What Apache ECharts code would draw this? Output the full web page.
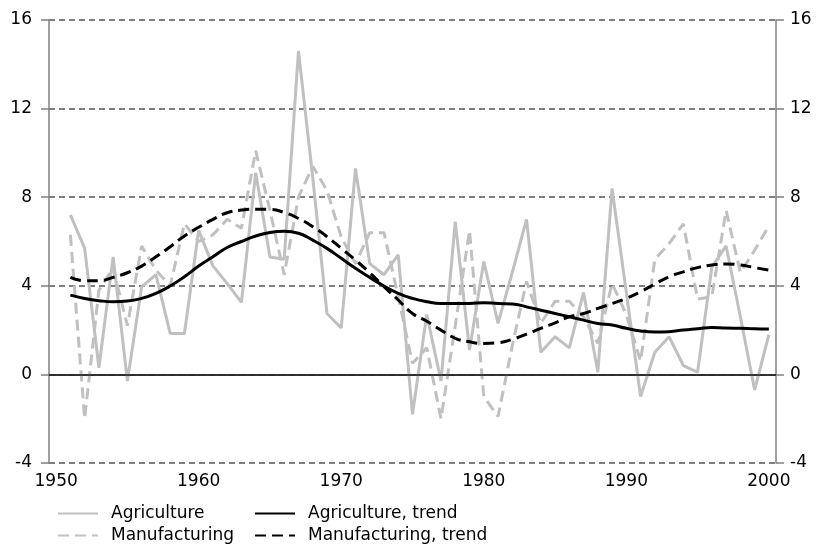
<!DOCTYPE html>
<html>
<head>
<meta charset="utf-8">
<script src="https://cdn.jsdelivr.net/npm/echarts@6/dist/echarts.min.js"></script>
<style>
  html, body { margin: 0; padding: 0; background: #fff; }
  #main { width: 817px; height: 545px; }
</style>
</head>
<body>
<div id="main"></div>
<script>
  // years on the axis (1950 is an empty slot, data starts 1951)
  var years = []
  for (var y = 1950; y <= 2000; y++) years.push(String(y))

  // growth rates 1951-2000
  var agriculture = [7.2, 5.7, 0.3, 5.3, -0.3, 3.95, 4.5, 1.85, 1.85, 6.5,
    4.9, 4.1, 3.25, 9.1, 5.3, 5.2, 14.6, 8.9, 2.75, 2.1,
    9.3, 5.0, 4.5, 5.4, -1.8, 2.7, -0.3, 6.9, 1.1, 5.1,
    2.3, 4.6, 7.0, 1.0, 1.7, 1.2, 3.7, 0.1, 8.4, 3.7,
    -1.0, 1.0, 1.7, 0.4, 0.1, 4.85, 5.8, 2.6, -0.7, 1.8]
  var manufacturing = [6.3, -2.0, 3.8, 4.8, 2.2, 5.8, 4.7, 4.0, 6.8, 6.0,
    6.3, 7.0, 6.6, 10.1, 7.4, 4.5, 8.0, 9.4, 8.3, 6.2,
    5.0, 6.4, 6.4, 3.5, 0.5, 1.2, -2.0, 2.2, 6.5, -1.0,
    -1.9, 1.3, 4.2, 2.3, 3.3, 3.3, 2.6, 1.4, 4.1, 2.7,
    0.6, 5.2, 5.9, 6.8, 3.4, 3.5, 7.4, 4.6, 5.6, 6.7]
  var agricultureTrend = [3.58, 3.43, 3.33, 3.28, 3.31, 3.43, 3.66, 3.99, 4.41, 4.89,
    5.31, 5.73, 6.0, 6.25, 6.41, 6.46, 6.37, 6.06, 5.69, 5.24,
    4.79, 4.38, 3.99, 3.66, 3.43, 3.28, 3.2, 3.2, 3.2, 3.24,
    3.2, 3.18, 3.05, 2.9, 2.75, 2.6, 2.45, 2.3, 2.23, 2.08,
    1.96, 1.91, 1.93, 2.0, 2.06, 2.12, 2.09, 2.08, 2.06, 2.05]
  var manufacturingTrend = [4.38, 4.23, 4.23, 4.38, 4.59, 4.89, 5.31, 5.76, 6.25, 6.64,
    7.0, 7.3, 7.42, 7.46, 7.45, 7.31, 7.04, 6.67, 6.22, 5.69,
    5.16, 4.59, 3.96, 3.36, 2.75, 2.4, 2.0, 1.63, 1.47, 1.4,
    1.43, 1.58, 1.82, 2.08, 2.33, 2.6, 2.75, 2.98, 3.2, 3.43,
    3.73, 4.08, 4.41, 4.63, 4.82, 4.94, 4.98, 4.94, 4.82, 4.71]
  var yTicks = {min: -4, max: 16, interval: 4}

  var font = 'DejaVu Sans'
  var gray = '#c0c0c0'

  function withGap (arr) {
    return [null].concat(arr)
  }

  var yAxisBase = {
    type: 'value',
    min: yTicks.min,
    max: yTicks.max,
    interval: yTicks.interval,
    axisLine: {show: true, lineStyle: {color: '#808080', width: 1.5}},
    axisTick: {show: true, length: 8, lineStyle: {color: '#808080', width: 1.5}},
    axisLabel: {color: '#000', fontFamily: font, fontSize: 17, margin: 14}
  }

  // two vertical legends side by side, symbol hidden so only the line shows
  // (height given so the items don't wrap into a second column)
  var legendBase = {
    top: 505,
    height: 60,
    padding: 0,
    orient: 'vertical',
    itemWidth: 40,
    itemHeight: 12,
    itemGap: 5,
    itemStyle: {opacity: 0},
    textStyle: {fontFamily: font, fontSize: 17, lineHeight: 17, color: '#000', padding: [0, 0, 0, 8]}
  }

  var chart = echarts.init(document.getElementById('main'))
  chart.setOption({
    animation: false,
    backgroundColor: '#fff',
    grid: {left: 49, right: 41, top: 20, bottom: 82, containLabel: false},
    legend: [
      Object.assign({}, legendBase, {left: 57, data: ['Agriculture', 'Manufacturing']}),
      Object.assign({}, legendBase, {left: 254, data: ['Agriculture, trend', 'Manufacturing, trend']})
    ],
    xAxis: {
      type: 'category',
      data: years,
      boundaryGap: true,
      axisLine: {lineStyle: {color: '#808080', width: 1.5}},
      axisTick: {interval: 0, length: 5, lineStyle: {color: '#333', width: 1}},
      axisLabel: {
        color: '#000',
        fontFamily: font,
        fontSize: 17,
        margin: 10,
        interval: function (index, value) { return Number(value) % 10 === 0 }
      },
      splitLine: {show: false}
    },
    yAxis: [
      Object.assign({}, yAxisBase, {
        position: 'left',
        axisLabel: {color: '#000', fontFamily: font, fontSize: 17, margin: 17},
        splitLine: {show: true, lineStyle: {color: '#7f7f7f', width: 2, type: [6, 4]}}
      }),
      Object.assign({}, yAxisBase, {
        position: 'right',
        splitLine: {show: false}
      })
    ],
    series: [
      {
        name: 'Agriculture',
        type: 'line',
        data: withGap(agriculture),
        symbol: 'none',
        lineStyle: {color: gray, width: 3},
        itemStyle: {color: gray},
        z: 2,
        markLine: {
          silent: true,
          symbol: 'none',
          label: {show: false},
          lineStyle: {color: '#111', width: 1.5, type: 'solid'},
          data: [{yAxis: 0}]
        }
      },
      {
        name: 'Manufacturing',
        type: 'line',
        data: withGap(manufacturing),
        symbol: 'none',
        lineStyle: {color: gray, width: 3, type: [11, 6]},
        itemStyle: {color: gray},
        z: 2
      },
      {
        name: 'Agriculture, trend',
        type: 'line',
        data: withGap(agricultureTrend),
        smooth: true,
        symbol: 'none',
        lineStyle: {color: '#000', width: 3},
        itemStyle: {color: '#000'},
        z: 3
      },
      {
        name: 'Manufacturing, trend',
        type: 'line',
        data: withGap(manufacturingTrend),
        smooth: true,
        symbol: 'none',
        lineStyle: {color: '#000', width: 3, type: [11, 6]},
        itemStyle: {color: '#000'},
        z: 3
      }
    ]
  })
</script>
</body>
</html>
